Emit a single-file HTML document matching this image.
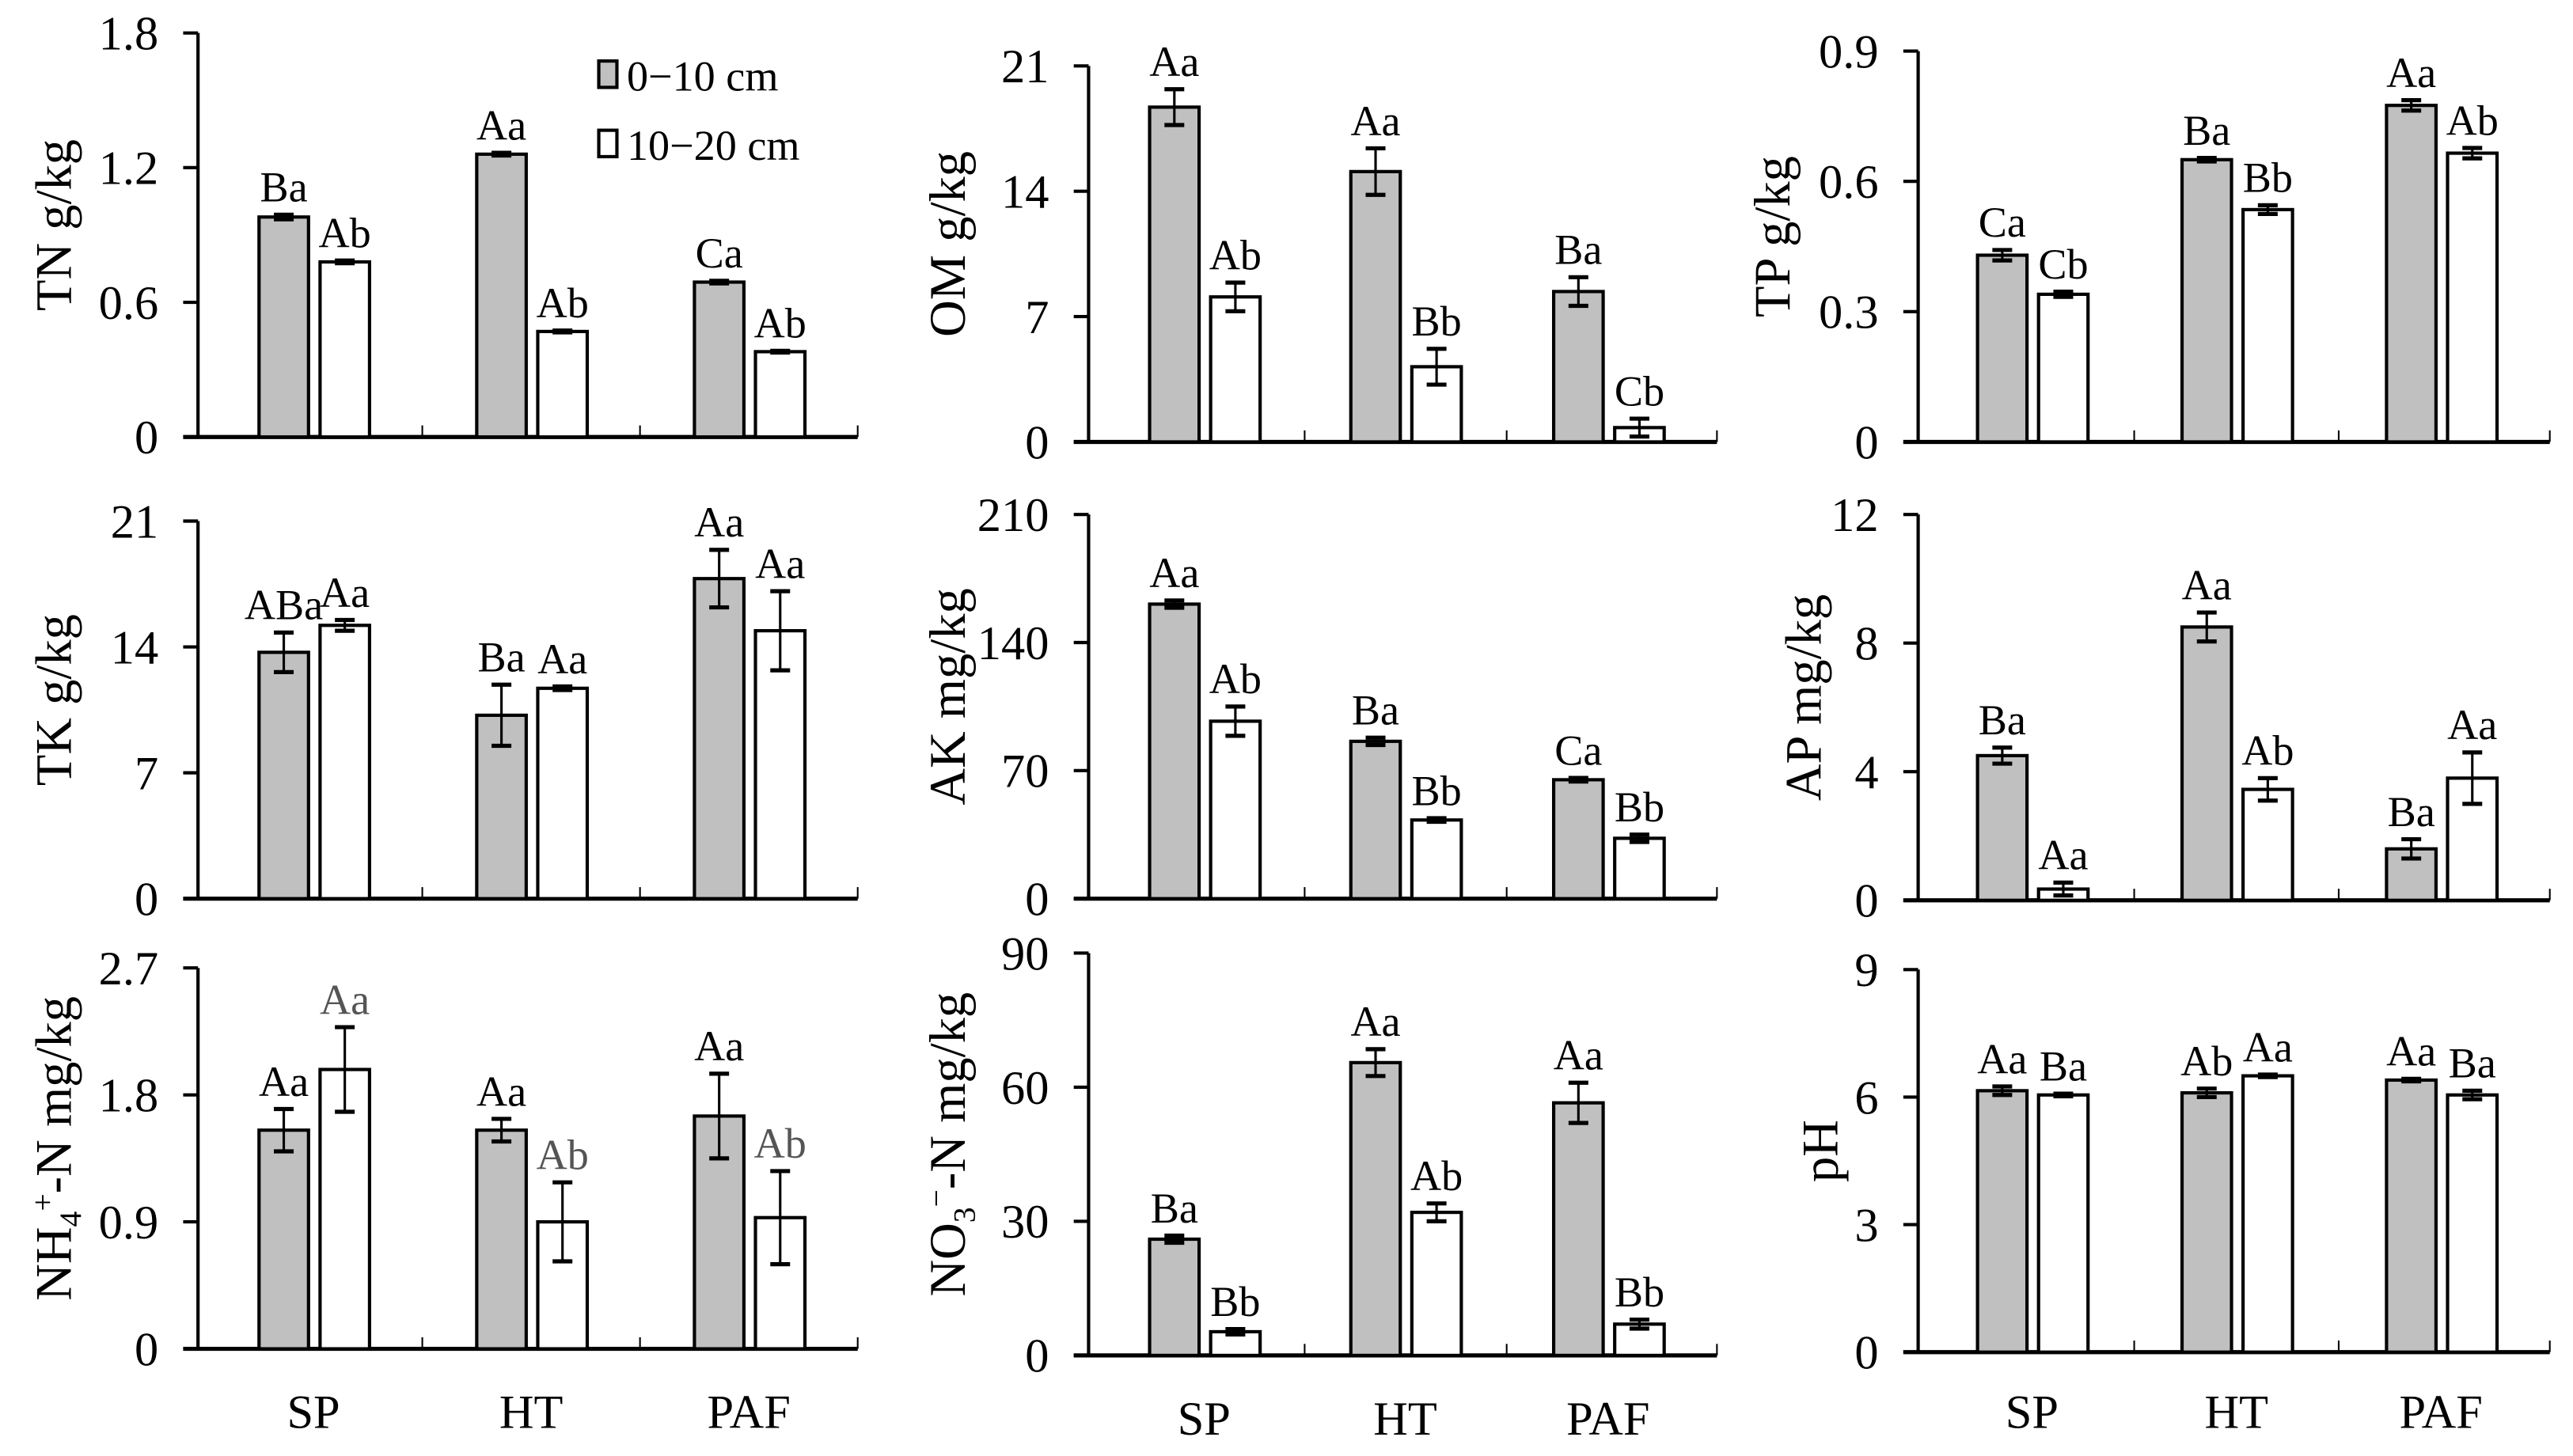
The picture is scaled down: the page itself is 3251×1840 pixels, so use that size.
<!DOCTYPE html>
<html><head><meta charset="utf-8"><style>
html,body{margin:0;padding:0;background:#fff}
svg{display:block}
svg text{font-family:"Liberation Serif","Times New Roman","DejaVu Serif","Noto Serif CJK SC",serif;fill:#000}
</style></head><body>
<svg id="fig" width="3251" height="1840" viewBox="0 0 1560 883" xmlns="http://www.w3.org/2000/svg"></svg>
<script>
const categories = ["SP","HT","PAF"];
// TN
const tnGray=[0.98,1.26,0.69], tnGrayErr=[0.01,0.006,0.006], tnWhite=[0.78,0.47,0.38], tnWhiteErr=[0.006,0.004,0.004];
const tnLabG=["Ba","Aa","Ca"], tnLabW=["Ab","Ab","Ab"], tnTicks=["0","0.6","1.2","1.8"];
// OM
const omGray=[18.7,15.1,8.4], omGrayErr=[1.0,1.3,0.8], omWhite=[8.1,4.2,0.8], omWhiteErr=[0.8,1.0,0.5];
const omLabG=["Aa","Aa","Ba"], omLabW=["Ab","Bb","Cb"], omTicks=["0","7","14","21"];
// TP
const tpGray=[0.43,0.65,0.775], tpGrayErr=[0.012,0.004,0.012], tpWhite=[0.34,0.535,0.665], tpWhiteErr=[0.006,0.01,0.012];
const tpLabG=["Ca","Ba","Aa"], tpLabW=["Cb","Bb","Ab"], tpTicks=["0","0.3","0.6","0.9"];
// TK
const tkGray=[13.7,10.2,17.8], tkGrayErr=[1.1,1.7,1.6], tkWhite=[15.2,11.7,14.9], tkWhiteErr=[0.3,0.1,2.2];
const tkLabG=["ABa","Ba","Aa"], tkLabW=["Aa","Aa","Aa"], tkTicks=["0","7","14","21"];
// AK
const akGray=[161,86,65], akGrayErr=[2,2,1], akWhite=[97,43,33], akWhiteErr=[8,1,2];
const akLabG=["Aa","Ba","Ca"], akLabW=["Ab","Bb","Bb"], akTicks=["0","70","140","210"];
// AP
const apGray=[4.5,8.5,1.6], apGrayErr=[0.25,0.45,0.3], apWhite=[0.35,3.45,3.8], apWhiteErr=[0.2,0.35,0.8];
const apLabG=["Ba","Aa","Ba"], apLabW=["Aa","Ab","Aa"], apTicks=["0","4","8","12"];
// NH4
const nhGray=[1.55,1.55,1.65], nhGrayErr=[0.15,0.08,0.3], nhWhite=[1.98,0.9,0.93], nhWhiteErr=[0.3,0.28,0.33];
const nhLabG=["Aa","Aa","Aa"], nhLabW=["Aa","Ab","Ab"], nhTicks=["0","0.9","1.8","2.7"];
// NO3
const noGray=[26,65.5,56.5], noGrayErr=[0.8,3,4.5], noWhite=[5.3,32,7], noWhiteErr=[0.6,2,1];
const noLabG=["Ba","Aa","Aa"], noLabW=["Bb","Ab","Bb"], noTicks=["0","30","60","90"];
// pH
const phGray=[6.15,6.1,6.4], phGrayErr=[0.1,0.1,0.03], phWhite=[6.05,6.5,6.05], phWhiteErr=[0.03,0.03,0.1];
const phLabG=["Aa","Ab","Aa"], phLabW=["Ba","Aa","Ba"], phTicks=["0","3","6","9"];

const NS="http://www.w3.org/2000/svg";
const svg=document.getElementById('fig');
function mk(tag,attrs,parent){const e=document.createElementNS(NS,tag);for(const k in attrs)e.setAttribute(k,attrs[k]);(parent||svg).appendChild(e);return e;}

const panels=[
 {id:"tn",ax:120,top:20,base:265,c:[190,322,454],g:tnGray,ge:tnGrayErr,w:tnWhite,we:tnWhiteErr,lg:tnLabG,lw:tnLabW,ticks:tnTicks,title:"TN  g/kg",tx:43,xl:false},
 {id:"om",ax:660,top:40,base:268,c:[730,852,975],g:omGray,ge:omGrayErr,w:omWhite,we:omWhiteErr,lg:omLabG,lw:omLabW,ticks:omTicks,title:"OM g/kg",tx:585,xl:false},
 {id:"tp",ax:1163,top:31,base:268,c:[1232,1356,1480],g:tpGray,ge:tpGrayErr,w:tpWhite,we:tpWhiteErr,lg:tpLabG,lw:tpLabW,ticks:tpTicks,title:"TP  g/kg",tx:1085,xl:false},
 {id:"tk",ax:120,top:316,base:545,c:[190,322,454],g:tkGray,ge:tkGrayErr,w:tkWhite,we:tkWhiteErr,lg:tkLabG,lw:tkLabW,ticks:tkTicks,title:"TK g/kg",tx:43,xl:false},
 {id:"ak",ax:660,top:312,base:545,c:[730,852,975],g:akGray,ge:akGrayErr,w:akWhite,we:akWhiteErr,lg:akLabG,lw:akLabW,ticks:akTicks,title:"AK mg/kg",tx:585,xl:false},
 {id:"ap",ax:1163,top:312,base:546,c:[1232,1356,1480],g:apGray,ge:apGrayErr,w:apWhite,we:apWhiteErr,lg:apLabG,lw:apLabW,ticks:apTicks,title:"AP mg/kg",tx:1104,xl:false},
 {id:"nh",ax:120,top:587,base:818,c:[190,322,454],g:nhGray,ge:nhGrayErr,w:nhWhite,we:nhWhiteErr,lg:nhLabG,lw:nhLabW,ticks:nhTicks,title:null,tx:43,xl:true,xly:866,grayW:true},
 {id:"no",ax:660,top:578,base:822,c:[730,852,975],g:noGray,ge:noGrayErr,w:noWhite,we:noWhiteErr,lg:noLabG,lw:noLabW,ticks:noTicks,title:null,tx:585,xl:true,xly:870},
 {id:"ph",ax:1163,top:588,base:820,c:[1232,1356,1480],g:phGray,ge:phGrayErr,w:phWhite,we:phWhiteErr,lg:phLabG,lw:phLabW,ticks:phTicks,title:"pH",tx:1114,xl:true,xly:866}
];

panels.forEach(p=>{
  const g=mk('g',{});
  
  
  const n=p.ticks.length-1, max=parseFloat(p.ticks[n]);
  const y=v=>p.base-(v/max)*(p.base-p.top);
  const end=p.c[2]+66;
  const ya=mk('line',{x1:p.ax,y1:p.top,x2:p.ax,y2:p.base,stroke:'#000','stroke-width':2},g);
  
  const xa=mk('line',{x1:p.ax-9,y1:p.base,x2:end,y2:p.base,stroke:'#000','stroke-width':2.5},g);
  
  [ (p.c[0]+p.c[1])/2, (p.c[1]+p.c[2])/2, end ].forEach(sx=>{
    mk('line',{x1:sx,y1:p.base,x2:sx,y2:p.base-7,stroke:'#000','stroke-width':1},g);
  });
  p.ticks.forEach((t,i)=>{
    const ty=y(parseFloat(t));
    mk('line',{x1:p.ax-9,y1:ty,x2:p.ax,y2:ty,stroke:'#000','stroke-width':2},g);
    const tl=mk('text',{x:p.ax-24,y:ty+10,'text-anchor':'end','font-size':29},g);
    tl.textContent=t;
    
  });
  p.c.forEach((cx,i)=>{
    const series=[[p.g[i],p.ge[i],cx-33,'#c0c0c0',p.lg[i],'#000'],[p.w[i],p.we[i],cx+4,'#fff',p.lw[i],p.grayW?'#555':'#000']];
    series.forEach((s,j)=>{
      const [v,e,x0,fill,lab,lc]=s;
      const r=mk('rect',{x:x0,y:y(v),width:30,height:p.base-y(v),fill:fill,stroke:'#000','stroke-width':2},g);
      
      
      const xm=x0+15, yt=y(v+e), yb=y(v-e);
      mk('line',{x1:xm,y1:yt,x2:xm,y2:yb,stroke:'#000','stroke-width':1.5},g);
      mk('line',{x1:xm-6,y1:yt,x2:xm+6,y2:yt,stroke:'#000','stroke-width':2.5},g);
      mk('line',{x1:xm-6,y1:yb,x2:xm+6,y2:yb,stroke:'#000','stroke-width':2.5},g);
      const t=mk('text',{x:xm,y:yt-8,'text-anchor':'middle','font-size':26},g);
      t.style.fill=lc;
      t.textContent=lab;
      
    });
    if(p.xl){
      const xt=mk('text',{x:cx,y:p.xly,'text-anchor':'middle','font-size':29},g);
      xt.textContent=categories[i];
      
    }
  });
  const cy=(p.top+p.base)/2-6;
  const tt=mk('text',{x:p.tx,y:cy,'text-anchor':'middle','font-size':31,transform:`rotate(-90 ${p.tx} ${cy})`},g);
  
  if(p.id==='nh'){
    tt.innerHTML='NH<tspan font-size="19" dy="6">4</tspan><tspan font-size="19" dy="-17">+</tspan><tspan dy="11">-N mg/kg</tspan>';
  }else if(p.id==='no'){
    tt.innerHTML='NO<tspan font-size="19" dy="6">3</tspan><tspan font-size="19" dy="-17">−</tspan><tspan dy="11">-N  mg/kg</tspan>';
  }else tt.textContent=p.title;
});
const lg=mk('g',{});

mk('rect',{x:363,y:37,width:11,height:16,fill:'#c0c0c0',stroke:'#000','stroke-width':2},lg);
const l1=mk('text',{x:380,y:55,'font-size':26},lg);l1.textContent='0−10 cm';

mk('rect',{x:363,y:79,width:11,height:16,fill:'#fff',stroke:'#000','stroke-width':2},lg);
const l2=mk('text',{x:380,y:97,'font-size':26},lg);l2.textContent='10−20 cm';

</script>
</body></html>
